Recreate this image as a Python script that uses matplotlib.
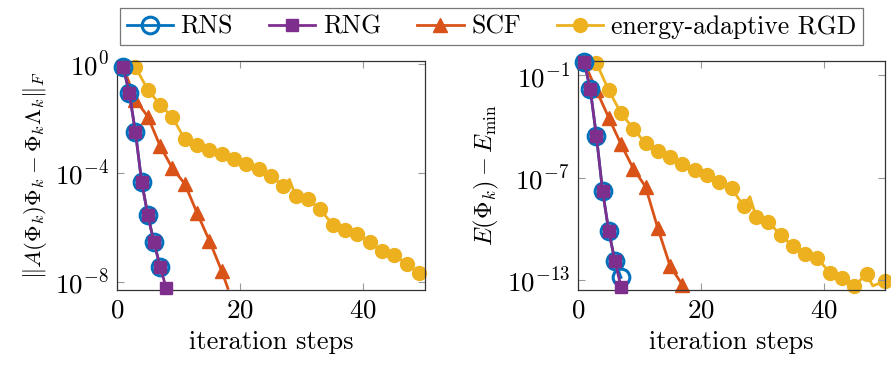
import matplotlib.pyplot as plt
import numpy as np

plt.rcParams['font.family'] = 'cmr10'
plt.rcParams['mathtext.fontset'] = 'cm'
plt.rcParams['axes.formatter.use_mathtext'] = True

# colours (MATLAB default palette)
c_rns = '#0072BD'
c_rng = '#7E2F8E'
c_scf = '#D95319'
c_rgd = '#EDB120'

# ---- left panel: residual, log10 values ----
res_rns_x = [1, 2, 3, 4, 5, 6, 7]
res_rns = [-0.12, -1.08, -2.52, -4.33, -5.56, -6.55, -7.45]
res_rng_x = [1, 2, 3, 4, 5, 6, 7, 8]
res_rng = [-0.12, -1.08, -2.52, -4.33, -5.56, -6.55, -7.45, -8.25]
res_scf_x = [1, 3, 5, 7, 9, 11, 13, 15, 17, 18]
res_scf = [-0.1, -1.33, -1.94, -3.02, -3.84, -4.41, -5.48, -6.50, -7.61, -8.25]
res_rgd_x = [1, 3, 5, 7, 9, 11, 13, 15, 17, 19, 21, 23, 25, 27, 28, 29, 31,
             33, 35, 37, 39, 41, 43, 45, 47, 49]
res_rgd = [-0.12, -0.12, -0.96, -1.50, -1.97, -2.77, -2.98, -3.18, -3.32,
           -3.51, -3.69, -3.88, -4.12, -4.49, -4.25, -4.86, -4.98, -5.35,
           -5.91, -6.09, -6.25, -6.55, -6.89, -7.01, -7.36, -7.67]

# ---- right panel: energy error, log10 values ----
en_rns_x = [1, 2, 3, 4, 5, 6, 7]
en_rns = [-0.22, -1.82, -4.57, -7.78, -10.12, -11.88, -12.86]
en_rng_x = [1, 2, 3, 4, 5, 6, 7]
en_rng = [-0.22, -1.82, -4.57, -7.78, -10.12, -11.88, -13.4]
en_scf_x = [1, 3, 5, 7, 9, 11, 13, 15, 17]
en_scf = [-0.22, -1.88, -3.48, -5.04, -6.47, -7.54, -9.98, -12.19, -13.3]
en_rgd_x = [1, 3, 5, 7, 9, 11, 13, 15, 17, 19, 21, 23, 25, 27, 28, 29, 31,
            33, 35, 37, 39, 41, 43, 45, 47, 48, 50]
en_rgd = [-0.22, -0.28, -1.88, -3.21, -4.13, -5.0, -5.43, -5.82, -6.18,
          -6.53, -6.86, -7.25, -7.64, -8.68, -8.13, -9.30, -9.59, -10.38,
          -11.02, -11.49, -11.74, -12.58, -12.91, -13.36, -12.66, -13.36,
          -13.07]

labels = ['RNS', 'RNG', 'SCF', 'energy-adaptive RGD']

fs_tick = 19.5
fs_lab = 19
fs_ylab = 16.5

fig = plt.figure(figsize=(8.91, 3.65), dpi=100)
ax1 = fig.add_axes([0.1313, 0.2055, 0.3457, 0.6274])
ax2 = fig.add_axes([0.6487, 0.2055, 0.3446, 0.6274])


def draw(ax, rns, rng, scf, rgd):
    lw = 2.0
    rx, ry = rns
    ax.plot(rx, 10.0 ** np.array(ry), color=c_rns, lw=lw, marker='o', ms=12,
            mfc='none', mec=c_rns, mew=2.2, clip_on=False, zorder=3,
            label=labels[0])
    gx, gy = rng
    ax.plot(gx, 10.0 ** np.array(gy), color=c_rng, lw=lw, marker='s', ms=8.5,
            mfc=c_rng, mec=c_rng, clip_on=False, zorder=4, label=labels[1])
    sx, sy = scf
    mk = [i for i, v in enumerate(sx) if v % 2 == 1]
    ax.plot(sx, 10.0 ** np.array(sy), color=c_scf, lw=lw, marker='^', ms=9.5,
            mfc=c_scf, mec=c_scf, markevery=mk, clip_on=False, zorder=2,
            label=labels[2])
    yx, yy = rgd
    mk = [i for i, v in enumerate(yx) if v % 2 == 1 or v == 50]
    ax.plot(yx, 10.0 ** np.array(yy), color=c_rgd, lw=lw, marker='o', ms=10,
            mfc=c_rgd, mec=c_rgd, markevery=mk, clip_on=False, zorder=1,
            label=labels[3])
    ax.set_yscale('log')
    ax.set_xlim(0, 50)
    ax.set_xticks([0, 20, 40])
    ax.minorticks_off()
    ax.tick_params(axis='both', which='both', direction='in', top=True,
                   right=True, color='#999999', length=5, labelsize=fs_tick,
                   pad=6)
    for s in ax.spines.values():
        s.set_color('#333333')
        s.set_linewidth(0.9)
    ax.set_xlabel('iteration steps', fontsize=fs_lab, labelpad=6)


draw(ax1, (res_rns_x, res_rns), (res_rng_x, res_rng), (res_scf_x, res_scf),
     (res_rgd_x, res_rgd))
ax1.set_ylim(10 ** -8.31, 10 ** 0.1)
ax1.set_yticks([1e0, 1e-4, 1e-8])
ax1.minorticks_off()
ax1.set_ylabel(r'$\|A(\mathit{\Phi}_k)\mathit{\Phi}_k - \mathit{\Phi}_k\mathit{\Lambda}_k\|_F$',
               fontsize=fs_ylab, labelpad=4)

draw(ax2, (en_rns_x, en_rns), (en_rng_x, en_rng), (en_scf_x, en_scf),
     (en_rgd_x, en_rgd))
ax2.set_ylim(10 ** -13.6, 10 ** -0.16)
ax2.set_yticks([1e-1, 1e-7, 1e-13])
ax2.minorticks_off()
ax2.set_ylabel(r'$E(\mathit{\Phi}_k) - E_{\min}$', fontsize=fs_ylab + 1,
               labelpad=4)

h, l = ax1.get_legend_handles_labels()
leg = fig.legend(h, l, loc='center', bbox_to_anchor=(0.5516, 0.927), ncol=4,
                 fontsize=18.5, frameon=True, fancybox=False,
                 edgecolor='#555555', handlelength=1.8, columnspacing=1.4,
                 handletextpad=0.3, borderpad=0.25)
leg.get_frame().set_linewidth(0.9)

fig.savefig('out.png', dpi=100)
